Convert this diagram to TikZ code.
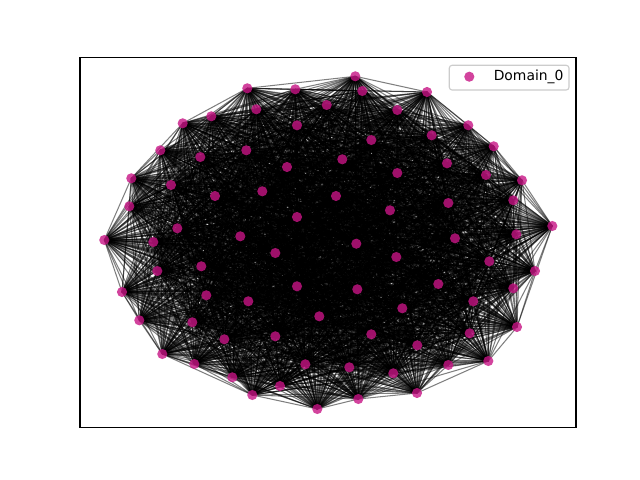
\documentclass[tikz,border=0pt]{standalone}
\usepackage{fontspec}
\setmainfont{DejaVu Sans}
\pgfdeclarelayer{background}
\pgfsetlayers{background,main}
\definecolor{nodecol}{RGB}{199,21,133}
\definecolor{legedge}{RGB}{204,204,204}
\tikzset{
  dot/.style={circle, fill=nodecol, fill opacity=0.8, draw=none, minimum size=7.3pt, inner sep=0pt},
  edge/.style={draw=black, draw opacity=0.5, line width=0.75pt},
  frame/.style={draw=black, line width=0.8pt},
  legbox/.style={draw=legedge, fill=white, fill opacity=0.8, text opacity=1, rounded corners=2pt, line width=0.8pt}
}
\begin{document}
\begin{tikzpicture}[x=0.72pt, y=-0.72pt]
\useasboundingbox (0,0) rectangle (640,480);
\foreach \x/\y [count=\k] in {
247.3/88.3, 295.3/89.3, 326.7/105, 256.3/109.3, 211.3/116.3, 182.7/123.3, 297/125.3,
160.3/150.3, 246.3/150.3, 200.3/157, 287/167, 131.3/178.3, 171/185, 262.3/191.3,
215/196, 129.3/206.3, 297/217, 177.3/228.3, 240.3/236.3, 104.3/240, 153.3/242,
355.3/76.3, 362.3/91, 427/92, 397.3/110, 468.3/125.3, 431.7/135.3, 371.3/140,
493.7/146.3, 342.3/159.3, 447/163.3, 397.3/173, 486/175, 522/180.3, 336/196,
448.3/203, 513.3/200.3, 390/210.3, 552.3/226, 516.3/234.3, 455/238.3, 356.3/243.7,
275.3/253, 157.3/271, 201.3/266.3, 122/292, 206.3/295.3, 248.3/301.3, 297/286.3,
319.3/316.3, 139.3/320.3, 192.3/322.3, 224.3/339.3, 275.3/336.3, 162.3/354,
194.3/364, 305.3/364.3, 232.3/377.3, 280/386, 252.3/395, 317.3/409, 396.3/257,
489.3/261.3, 535/271, 357.3/289.3, 438.3/284, 513.3/288.3, 402.3/308.3, 473.3/301.3,
371.3/334.3, 417.3/345.3, 517/327, 469.7/333.3, 349.3/367.3, 393.3/373.3, 448.3/365,
488.3/361, 358.3/399, 417/393}
  {\node[dot] (n\k) at (\x,\y) {};}
\begin{pgfonlayer}{background}
\fill[white] (0,0) rectangle (640,480);
\pgfmathsetseed{7}
\foreach \i in {1,...,79}{
  \foreach \j in {1,...,79}{
    \ifnum\j>\i
      \pgfmathsetmacro\r{rnd}
      \ifdim\r pt<0.88pt
        \draw[edge] (n\i.center) -- (n\j.center);
      \fi
    \fi
  }
}
\end{pgfonlayer}
\draw[frame] (80,57.6) rectangle (576,427.2);
\draw[legbox] (449.3,65.3) rectangle (569,90);
\node[dot] (legdot) at (469.3,76.7) {};
\node[anchor=west, inner sep=0pt, font=\fontsize{10pt}{12pt}\selectfont] (legtext) at (493.5,76.7) {Domain\_0};
\end{tikzpicture}
\end{document}
